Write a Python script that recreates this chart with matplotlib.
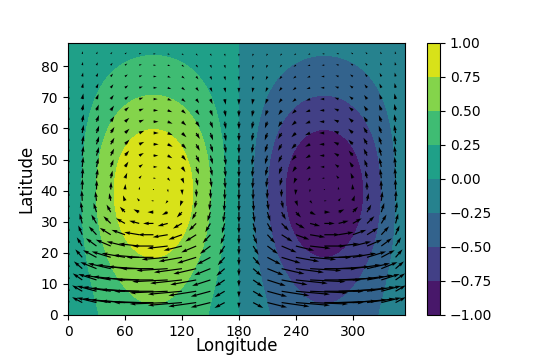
import numpy as np
import matplotlib
matplotlib.use('Agg')
import matplotlib.pyplot as plt

# field parameters: one wave in longitude,
# peak near 40N, contour levels every 0.25
peak_lat = 40.0
width = 37.0
mirror = 0.5
levels = np.linspace(-1, 1, 9)
xticks = [0, 60, 120, 180, 240, 300]
yticks = [0, 10, 20, 30, 40, 50, 60, 70, 80]

# grids
lon = np.arange(0, 356, 2.5)
lat = np.arange(0, 87.6, 1.25)
qlon = np.arange(0, 346, 15)
qlat = np.linspace(4, 84, 23)


def prof(phi):
  e1 = np.exp(-((phi-peak_lat)/width)**2)
  e2 = np.exp(-((phi+peak_lat)/width)**2)
  g = e1 + mirror*e2
  dg = -2*(phi-peak_lat)/width**2*e1 - 2*mirror*(phi+peak_lat)/width**2*e2
  return g, dg

norm = prof(np.linspace(0, 90, 901))[0].max()

LON, LAT = np.meshgrid(lon, lat)
g, dg = prof(LAT)
psi = np.sin(np.deg2rad(LON))*g/norm

QLON, QLAT = np.meshgrid(qlon, qlat)
qg, qdg = prof(QLAT)
qg = qg/norm
qdg = qdg/norm
damp = np.exp(-QLAT/17.5)+0.03
u = -3800*qdg*damp*np.sin(np.deg2rad(QLON))
v = 11*qg*np.cos(np.deg2rad(QLON))

fig = plt.figure(figsize=(5.45, 3.55), dpi=100)
ax = fig.add_axes([0.1248, 0.1127, 0.6184, 0.7662])
cax = fig.add_axes([0.7835, 0.1127, 0.0239, 0.7662])

cs = ax.contourf(lon, lat, psi, levels=levels, cmap='viridis')
ax.quiver(QLON, QLAT, u, v, scale_units='inches', scale=100, width=0.0035)
ax.set_xlim(lon[0], lon[-1])
ax.set_ylim(lat[0], lat[-1])
ax.set_xticks(xticks)
ax.set_yticks(yticks)
ax.tick_params(labelsize=10)
ax.set_xlabel('Longitude', fontsize=12, labelpad=-1)
ax.set_ylabel('Latitude', fontsize=12)

cb = fig.colorbar(cs, cax=cax)
cb.set_ticks(levels)
cb.ax.tick_params(labelsize=10)

fig.savefig('out.png', dpi=100)
